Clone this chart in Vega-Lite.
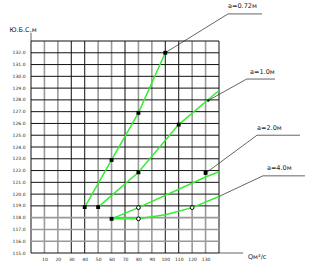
{
  "$schema": "https://vega.github.io/schema/vega-lite/v6.json",
  "autosize": {"type": "none"},
  "width": 188,
  "height": 212,
  "padding": {"left": 31, "top": 41, "right": 100, "bottom": 16},
  "background": "white",
  "config": {"view": {"stroke": null}, "font": "DejaVu Sans", "axis": {"labelOverlap": false, "labelFlush": false, "labelBound": false}},
  "datasets": {
    "vgrid": [
      {"x": 0, "kind": "major"}, {"x": 10, "kind": "minor"}, {"x": 20, "kind": "minor"},
      {"x": 30, "kind": "major"}, {"x": 40, "kind": "major"}, {"x": 50, "kind": "minor"},
      {"x": 60, "kind": "minor"}, {"x": 70, "kind": "major"}, {"x": 80, "kind": "minor"},
      {"x": 90, "kind": "minor"}, {"x": 100, "kind": "major"}, {"x": 110, "kind": "major"},
      {"x": 120, "kind": "minor"}, {"x": 130, "kind": "minor"}, {"x": 140, "kind": "major"}
    ],
    "hgrid": [
      {"y": 115, "kind": "major"}, {"y": 116, "kind": "minor"}, {"y": 117, "kind": "minor"},
      {"y": 118, "kind": "minor"}, {"y": 119, "kind": "major"}, {"y": 120, "kind": "major"},
      {"y": 121, "kind": "major"}, {"y": 122, "kind": "major"}, {"y": 123, "kind": "major"},
      {"y": 124, "kind": "major"}, {"y": 125, "kind": "major"}, {"y": 126, "kind": "major"},
      {"y": 127, "kind": "major"}, {"y": 128, "kind": "major"}, {"y": 129, "kind": "major"},
      {"y": 130, "kind": "major"}, {"y": 131, "kind": "major"}, {"y": 132, "kind": "major"},
      {"y": 133, "kind": "major"}
    ],
    "curves": [
      {"a": "0.72", "x": 40, "y": 118.9, "o": 1}, {"a": "0.72", "x": 60, "y": 122.9, "o": 2},
      {"a": "0.72", "x": 80, "y": 126.9, "o": 3}, {"a": "0.72", "x": 100, "y": 132.0, "o": 4},
      {"a": "1.0", "x": 50, "y": 118.9, "o": 1}, {"a": "1.0", "x": 80, "y": 121.85, "o": 2},
      {"a": "1.0", "x": 110, "y": 125.9, "o": 3}, {"a": "1.0", "x": 140, "y": 128.8, "o": 4},
      {"a": "2.0", "x": 60, "y": 117.9, "o": 1}, {"a": "2.0", "x": 80, "y": 118.85, "o": 2},
      {"a": "2.0", "x": 130, "y": 121.45, "o": 3}, {"a": "2.0", "x": 140, "y": 121.9, "o": 4},
      {"a": "4.0", "x": 60, "y": 117.9, "o": 1}, {"a": "4.0", "x": 80, "y": 117.9, "o": 2},
      {"a": "4.0", "x": 100, "y": 118.25, "o": 3}, {"a": "4.0", "x": 120, "y": 118.85, "o": 4},
      {"a": "4.0", "x": 140, "y": 119.8, "o": 5}
    ],
    "markers": [
      {"x": 40, "y": 118.9, "m": "filled"}, {"x": 60, "y": 122.9, "m": "filled"},
      {"x": 80, "y": 126.9, "m": "filled"}, {"x": 100, "y": 132.0, "m": "filled"},
      {"x": 50, "y": 118.9, "m": "filled"}, {"x": 80, "y": 121.85, "m": "filled"},
      {"x": 110, "y": 125.9, "m": "filled"}, {"x": 132, "y": 127.95, "m": "dot"},
      {"x": 60, "y": 117.9, "m": "filled"}, {"x": 80, "y": 118.85, "m": "open"},
      {"x": 130, "y": 121.8, "m": "filled"}, {"x": 80, "y": 117.9, "m": "open"},
      {"x": 120, "y": 118.85, "m": "open"}
    ],
    "leaders": [
      {"id": "l1", "x": 100, "y": 132.0, "o": 1}, {"id": "l1", "x": 146.7, "y": 135.3, "o": 2}, {"id": "l1", "x": 172.0, "y": 135.3, "o": 3},
      {"id": "l2", "x": 132, "y": 127.95, "o": 1}, {"id": "l2", "x": 160.6, "y": 129.77, "o": 2}, {"id": "l2", "x": 181.7, "y": 129.77, "o": 3},
      {"id": "l3", "x": 130.3, "y": 121.8, "o": 1}, {"id": "l3", "x": 168.3, "y": 125.0, "o": 2}, {"id": "l3", "x": 200.3, "y": 125.0, "o": 3},
      {"id": "l4", "x": 140, "y": 119.8, "o": 1}, {"id": "l4", "x": 172.7, "y": 121.55, "o": 2}, {"id": "l4", "x": 204, "y": 121.55, "o": 3},
      {"id": "ax", "x": 140, "y": 115, "o": 1}, {"id": "ax", "x": 157.9, "y": 115, "o": 2},
      {"id": "ay", "x": 0, "y": 133, "o": 1}, {"id": "ay", "x": 0, "y": 133.7, "o": 2}
    ],
    "labels": [
      {"x": 146.7, "y": 135.95, "t": "a=0.72м"},
      {"x": 163.1, "y": 130.35, "t": "a=1.0м"},
      {"x": 168.3, "y": 125.6, "t": "a=2.0м"},
      {"x": 175.7, "y": 122.25, "t": "a=4.0м"},
      {"x": 161.6, "y": 114.7, "t": "Qм³/с"},
      {"x": -16, "y": 133.95, "t": "Ю.Б.С.м"}
    ]
  },
  "layer": [
    {
      "data": {"name": "vgrid"},
      "mark": {"type": "rule"},
      "encoding": {
        "x": {"field": "x", "type": "quantitative", "scale": {"domain": [0, 140], "nice": false, "zero": false},
          "axis": {"values": [10, 20, 30, 40, 50, 60, 70, 80, 90, 100, 110, 120, 130], "tickCount": 30, "title": null, "grid": false, "ticks": false, "domain": false, "labelFontSize": 4.5, "labelPadding": 3, "labelColor": "#222", "labelFont": "DejaVu Sans", "labelOverlap": false, "labelFlush": false}},
        "color": {"field": "kind", "type": "nominal", "scale": {"domain": ["major", "minor"], "range": ["#111111", "#9a9a9a"]}, "legend": null},
        "strokeWidth": {"field": "kind", "type": "nominal", "scale": {"domain": ["major", "minor"], "range": [1, 1.6]}, "legend": null}
      }
    },
    {
      "data": {"name": "hgrid"},
      "mark": {"type": "rule"},
      "encoding": {
        "y": {"field": "y", "type": "quantitative", "scale": {"domain": [115, 133], "nice": false, "zero": false},
          "axis": {"values": [115, 116, 117, 118, 119, 120, 121, 122, 123, 124, 125, 126, 127, 128, 129, 130, 131, 132], "tickCount": 30, "format": ".1f", "title": null, "grid": false, "ticks": false, "domain": false, "labelFontSize": 4.5, "labelPadding": 6, "labelColor": "#222", "labelFont": "DejaVu Sans", "labelOverlap": false, "labelFlush": false}},
        "color": {"field": "kind", "type": "nominal", "legend": null},
        "strokeWidth": {"field": "kind", "type": "nominal", "legend": null}
      }
    },
    {
      "data": {"name": "curves"},
      "mark": {"type": "line", "color": "#33ee33", "strokeWidth": 1.5},
      "encoding": {
        "x": {"field": "x", "type": "quantitative"},
        "y": {"field": "y", "type": "quantitative"},
        "detail": {"field": "a", "type": "nominal"},
        "order": {"field": "o", "type": "quantitative"}
      }
    },
    {
      "data": {"name": "leaders"},
      "mark": {"type": "line", "color": "#222222", "strokeWidth": 0.7},
      "encoding": {
        "x": {"field": "x", "type": "quantitative"},
        "y": {"field": "y", "type": "quantitative"},
        "detail": {"field": "id", "type": "nominal"},
        "order": {"field": "o", "type": "quantitative"}
      }
    },
    {
      "data": {"name": "markers"},
      "transform": [{"filter": "datum.m == 'filled'"}],
      "mark": {"type": "square", "color": "#000000", "opacity": 1, "filled": true, "size": 15},
      "encoding": {
        "x": {"field": "x", "type": "quantitative"},
        "y": {"field": "y", "type": "quantitative"}
      }
    },
    {
      "data": {"name": "markers"},
      "transform": [{"filter": "datum.m == 'dot'"}],
      "mark": {"type": "circle", "color": "#000000", "opacity": 1, "size": 6},
      "encoding": {
        "x": {"field": "x", "type": "quantitative"},
        "y": {"field": "y", "type": "quantitative"}
      }
    },
    {
      "data": {"name": "markers"},
      "transform": [{"filter": "datum.m == 'open'"}],
      "mark": {"type": "circle", "fill": "white", "stroke": "#000000", "strokeWidth": 1, "opacity": 1, "size": 14},
      "encoding": {
        "x": {"field": "x", "type": "quantitative"},
        "y": {"field": "y", "type": "quantitative"}
      }
    },
    {
      "data": {"name": "labels"},
      "mark": {"type": "text", "align": "left", "baseline": "middle", "fontSize": 6.5, "color": "#222222", "font": "DejaVu Sans"},
      "encoding": {
        "x": {"field": "x", "type": "quantitative"},
        "y": {"field": "y", "type": "quantitative"},
        "text": {"field": "t", "type": "nominal"}
      }
    }
  ]
}
